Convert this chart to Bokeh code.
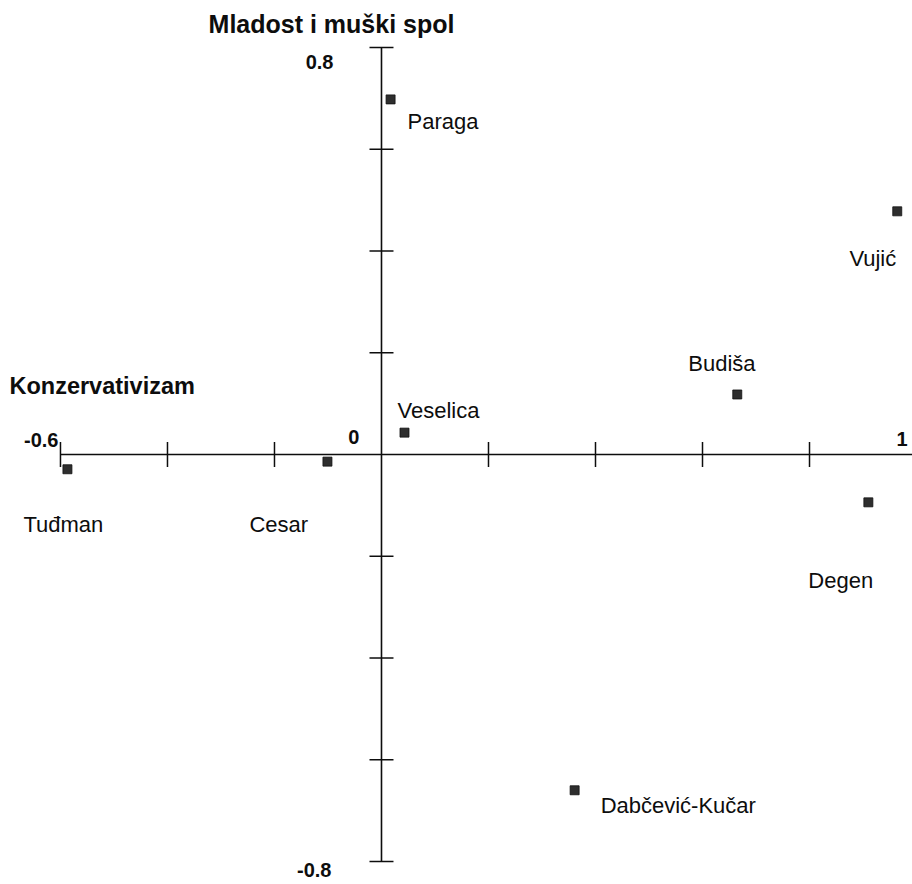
import math
from bokeh.plotting import figure
from bokeh.models import ColumnDataSource, Range1d
from bokeh.core.properties import value
from bokeh.embed import file_html
from bokeh.resources import INLINE

# ---- data ----
names = ["Paraga", "Vujić", "Budiša", "Veselica", "Tuđman", "Cesar", "Degen", "Dabčević-Kučar"]
konzervativizam = [0.017, 0.964, 0.665, 0.043, -0.587, -0.101, 0.910, 0.361]
mladost = [0.698, 0.478, 0.118, 0.043, -0.029, -0.014, -0.094, -0.660]

x_ticks = [-0.6, -0.4, -0.2, 0.2, 0.4, 0.6, 0.8, 1.0]
y_ticks = [-0.8, -0.6, -0.4, -0.2, 0.2, 0.4, 0.6, 0.8]
x_tick_labels = ["-0.6", "0", "1"]
x_tick_label_vals = [-0.6, 0.0, 1.0]
y_tick_labels = ["0.8", "-0.8"]
y_tick_label_vals = [0.8, -0.8]
x_title = "Konzervativizam"
y_title = "Mladost i muški spol"

# ---- layout / style (pixel offsets) ----
label_dx = [17, -1, -49, -7, -44, -78, -60, 26]
label_dy = [22, 47, -31, -22, 55, 63, 78, 15]
label_align = ["left", "right", "left", "left", "left", "left", "left", "left"]

FONT = value("Liberation Sans")
INK = "#0d0d0d"

p = figure(width=912, height=884, output_backend="svg", toolbar_location=None,
           x_axis_type=None, y_axis_type=None, min_border=0,
           x_range=Range1d(-0.7121, 0.9925), y_range=Range1d(-0.8452, 0.8924))
p.grid.visible = False
p.outline_line_color = None
p.background_fill_color = "white"
p.border_fill_color = "white"

# axis lines
p.segment(x0=[x_ticks[0]], y0=[0], x1=[x_ticks[-1]], y1=[0], line_color=INK, line_width=1.6)
p.segment(x0=[0], y0=[y_ticks[0]], x1=[0], y1=[y_ticks[-1]], line_color=INK, line_width=1.6)

# tick marks
p.dash(x=x_ticks, y=[0] * len(x_ticks), size=25, angle=math.pi / 2,
       line_color=INK, line_width=1.5)
p.dash(x=[0] * len(y_ticks), y=y_ticks, size=24, line_color=INK, line_width=1.5)

# tick labels
xt = ColumnDataSource(dict(x=x_tick_label_vals, y=[0] * 3, t=x_tick_labels,
                           dx=[-2, -22, -9], dy=[-15, -18, -16]))
p.text(x="x", y="y", text="t", source=xt, x_offset="dx", y_offset="dy",
       text_align="right", text_baseline="alphabetic", text_font=FONT,
       text_font_style="bold", text_font_size="20px", text_color=INK)
yt = ColumnDataSource(dict(x=[0] * 2, y=y_tick_label_vals, t=y_tick_labels,
                           dx=[-48, -50], dy=[14, 8]))
p.text(x="x", y="y", text="t", source=yt, x_offset="dx", y_offset="dy",
       text_align="right", text_baseline="alphabetic", text_font=FONT,
       text_font_style="bold", text_font_size="20px", text_color=INK)

# axis titles
p.text(x=[x_ticks[0]], y=[0], text=[x_title], x_offset=-51, y_offset=-69,
       text_align="left", text_baseline="alphabetic", text_font=FONT,
       text_font_style="bold", text_font_size="23.5px", text_color=INK)
p.text(x=[0], y=[y_ticks[-1]], text=[y_title], x_offset=-50, y_offset=-24,
       text_align="center", text_baseline="alphabetic", text_font=FONT,
       text_font_style="bold", text_font_size="25px", text_color=INK)

# points
src = ColumnDataSource(dict(x=konzervativizam, y=mladost, name=names,
                            dx=label_dx, dy=label_dy, al=label_align))
p.scatter(x="x", y="y", source=src, marker="square", size=9,
          fill_color="#2e2e2e", line_color="#111111", line_width=0.8)
p.text(x="x", y="y", text="name", source=src, x_offset="dx", y_offset="dy",
       text_align="al", text_baseline="alphabetic", text_font=FONT,
       text_font_size="22px", text_color=INK)

open("out.html", "w").write(file_html(p, INLINE))
